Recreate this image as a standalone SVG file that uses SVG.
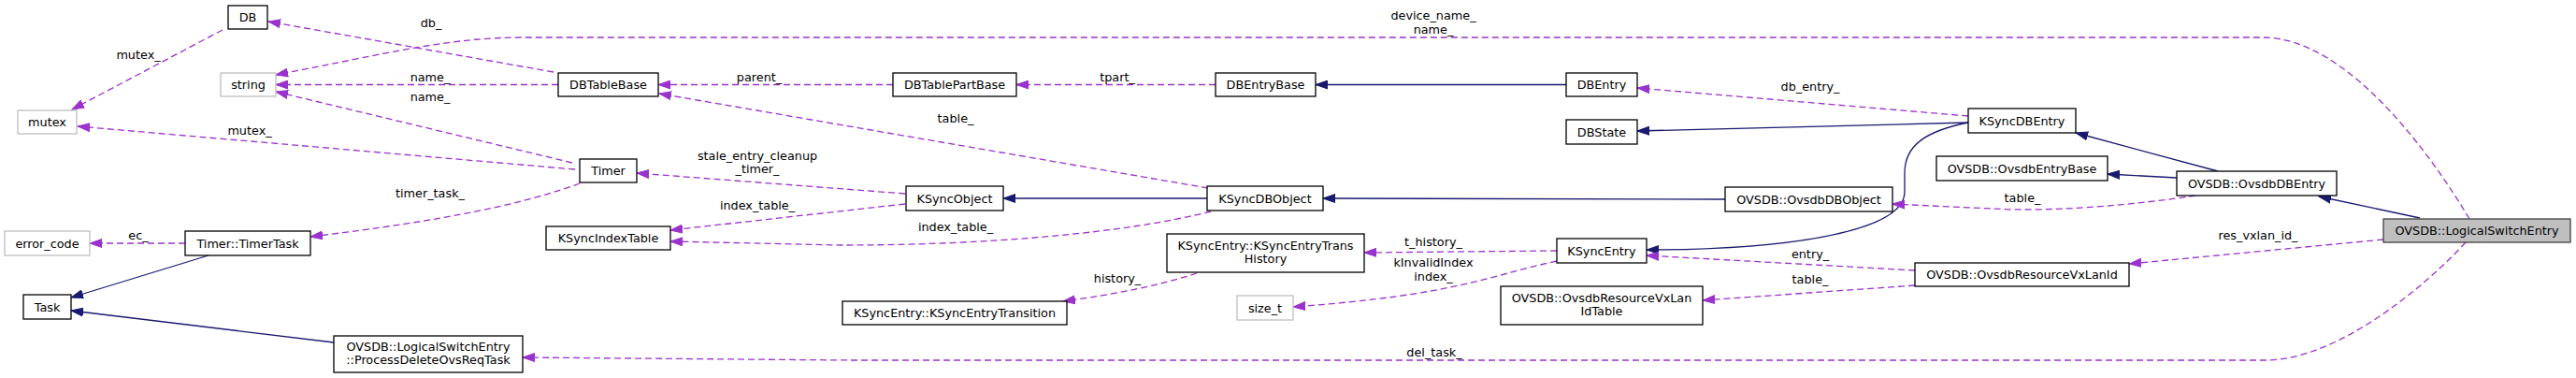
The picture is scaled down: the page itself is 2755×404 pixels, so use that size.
<svg xmlns="http://www.w3.org/2000/svg" width="2755" height="404" viewBox="0 0 2755 404">
<style>
text{font-family:"DejaVu Sans","Liberation Sans",sans-serif;font-size:12.8px;fill:#000}
.n text{text-anchor:middle}
.n rect{fill:#fff;stroke:#000;stroke-width:1.3}
.g rect{stroke:#bfbfbf}
.m rect{fill:#bfbfbf;stroke:#404040}
.u{fill:none;stroke:#9a32cd;stroke-width:1.3;stroke-dasharray:7,4;marker-end:url(#ap)}
.i{fill:none;stroke:#191970;stroke-width:1.3;marker-end:url(#ab)}
.l{text-anchor:middle}
</style>
<defs>
<marker id="ap" markerUnits="userSpaceOnUse" markerWidth="14" markerHeight="10" refX="13" refY="5" orient="auto"><path d="M0,0.5 L13,5 L0,9.5 z" fill="#9a32cd" stroke="#9a32cd" stroke-width="1"/></marker>
<marker id="ab" markerUnits="userSpaceOnUse" markerWidth="14" markerHeight="10" refX="13" refY="5" orient="auto"><path d="M0,0.5 L13,5 L0,9.5 z" fill="#191970" stroke="#191970" stroke-width="1"/></marker>
</defs>
<rect width="2755" height="404" fill="#fff"/>
<g id="edges">
<path class="u" d="M592,77 L287,23"/>
<path class="u" d="M238,32 L77,117"/>
<path class="u" d="M597,90.5 L295,90.5"/>
<path class="u" d="M612,174 L295,98"/>
<path class="u" d="M2641,234 C2600,165 2510,40 2420,40 L560,40 C480,40 420,56 295,80"/>
<path class="u" d="M615,181 L83,135"/>
<path class="u" d="M620,196 C560,218 480,235 332,253"/>
<path class="u" d="M198,260 L96,260"/>
<path class="i" d="M223,273 L76,318"/>
<path class="i" d="M357,366 L76,332"/>
<path class="u" d="M2637,259 C2595,305 2500,385 2423,385 L910,385 L559,382"/>
<path class="u" d="M955,90.5 L704,90.5"/>
<path class="u" d="M1300,90.5 L1087,90.5"/>
<path class="u" d="M1292,201 L705,100"/>
<path class="i" d="M1675,90.5 L1407,90.5"/>
<path class="u" d="M2105,124 L1751,94"/>
<path class="i" d="M2105,131 L1751,140"/>
<path class="i" d="M2105,131 C2060,140 2037,155 2037,185 L2037,205 C2037,250 1900,267 1761,267"/>
<path class="i" d="M1291,212 L1073,212"/>
<path class="i" d="M1845,213 L1415,212"/>
<path class="u" d="M968,207 L681,185"/>
<path class="u" d="M968,218 L717,246"/>
<path class="u" d="M1295,226 C1200,250 1050,262 900,262 L717,258"/>
<path class="u" d="M1280,292 C1240,305 1190,315 1137,322"/>
<path class="u" d="M1665,268 L1459,270"/>
<path class="u" d="M1665,279 C1590,295 1560,315 1383,328"/>
<path class="i" d="M2372,183 L2220,142"/>
<path class="i" d="M2328,190 L2254,186"/>
<path class="u" d="M2348,209 C2290,218 2200,227 2130,223 L2024,218"/>
<path class="u" d="M2048,289 L1761,273"/>
<path class="u" d="M2048,305 L1821,321"/>
<path class="u" d="M2549,256 L2277,282"/>
<path class="i" d="M2588,233 L2480,210"/>
<text class="l" x="461" y="29">db_</text>
<text class="l" x="148" y="63">mutex_</text>
<text class="l" x="460" y="87">name_</text>
<text class="l" x="460" y="108">name_</text>
<text class="l" x="1533" y="21">device_name_</text>
<text class="l" x="1533" y="36">name_</text>
<text class="l" x="267" y="144">mutex_</text>
<text class="l" x="460" y="211">timer_task_</text>
<text class="l" x="148" y="256">ec_</text>
<text class="l" x="812" y="87">parent_</text>
<text class="l" x="1195" y="87">tpart_</text>
<text class="l" x="1022" y="131">table_</text>
<text class="l" x="1936" y="97">db_entry_</text>
<text class="l" x="810" y="171">stale_entry_cleanup</text>
<text class="l" x="810" y="185">_timer_</text>
<text class="l" x="810" y="224">index_table_</text>
<text class="l" x="1022" y="247">index_table_</text>
<text class="l" x="1195" y="302">history_</text>
<text class="l" x="1533" y="263">t_history_</text>
<text class="l" x="1533" y="285">kInvalidIndex</text>
<text class="l" x="1533" y="300">index_</text>
<text class="l" x="2163" y="216">table_</text>
<text class="l" x="1936" y="276">entry_</text>
<text class="l" x="1936" y="303">table_</text>
<text class="l" x="2415" y="256">res_vxlan_id_</text>
<text class="l" x="1534" y="381">del_task_</text>
</g>
<g id="DB" class="n"><rect x="244" y="6" width="42" height="25"/><text x="265" y="23">DB</text></g>
<g id="string" class="n g"><rect x="236" y="78" width="59" height="25"/><text x="265.5" y="95">string</text></g>
<g id="mutex" class="n g"><rect x="19" y="118" width="63" height="25"/><text x="50.5" y="135">mutex</text></g>
<g id="error_code" class="n g"><rect x="5" y="247" width="91" height="26"/><text x="50.5" y="264.5">error_code</text></g>
<g id="TimerTask" class="n"><rect x="198" y="247" width="134" height="26"/><text x="265" y="264.5">Timer::TimerTask</text></g>
<g id="Task" class="n"><rect x="25" y="315" width="51" height="26"/><text x="50.5" y="332.5">Task</text></g>
<g id="ProcessDeleteOvsReqTask" class="n"><rect x="357" y="359" width="202" height="39"/><text x="458" y="374.5">OVSDB::LogicalSwitchEntry</text><text x="458" y="388.5">::ProcessDeleteOvsReqTask</text></g>
<g id="DBTableBase" class="n"><rect x="597" y="78" width="107" height="25"/><text x="650.5" y="95">DBTableBase</text></g>
<g id="Timer" class="n"><rect x="620" y="170" width="61" height="25"/><text x="650.5" y="187">Timer</text></g>
<g id="KSyncIndexTable" class="n"><rect x="584" y="242" width="133" height="25"/><text x="650.5" y="259">KSyncIndexTable</text></g>
<g id="DBTablePartBase" class="n"><rect x="955" y="78" width="132" height="25"/><text x="1021" y="95">DBTablePartBase</text></g>
<g id="DBEntryBase" class="n"><rect x="1300" y="78" width="107" height="25"/><text x="1353.5" y="95">DBEntryBase</text></g>
<g id="KSyncObject" class="n"><rect x="969" y="199" width="104" height="26"/><text x="1021" y="216.5">KSyncObject</text></g>
<g id="KSyncDBObject" class="n"><rect x="1291" y="199" width="124" height="26"/><text x="1353" y="216.5">KSyncDBObject</text></g>
<g id="KSyncEntryTransHistory" class="n"><rect x="1248" y="250" width="211" height="41"/><text x="1353.5" y="266.5">KSyncEntry::KSyncEntryTrans</text><text x="1353.5" y="280.5">History</text></g>
<g id="KSyncEntryTransition" class="n"><rect x="901" y="322" width="240" height="25"/><text x="1021" y="339">KSyncEntry::KSyncEntryTransition</text></g>
<g id="size_t" class="n g"><rect x="1323" y="316" width="60" height="26"/><text x="1353" y="333.5">size_t</text></g>
<g id="DBEntry" class="n"><rect x="1675" y="78" width="76" height="25"/><text x="1713" y="95">DBEntry</text></g>
<g id="DBState" class="n"><rect x="1675" y="128" width="76" height="26"/><text x="1713" y="145.5">DBState</text></g>
<g id="KSyncEntry" class="n"><rect x="1665" y="255" width="96" height="26"/><text x="1713" y="272.5">KSyncEntry</text></g>
<g id="OvsdbResourceVxLanIdTable" class="n"><rect x="1605" y="306" width="216" height="41"/><text x="1713" y="322.5">OVSDB::OvsdbResourceVxLan</text><text x="1713" y="336.5">IdTable</text></g>
<g id="KSyncDBEntry" class="n"><rect x="2105" y="116" width="115" height="26"/><text x="2162.5" y="133.5">KSyncDBEntry</text></g>
<g id="OvsdbEntryBase" class="n"><rect x="2071" y="167" width="183" height="26"/><text x="2162.5" y="184.5">OVSDB::OvsdbEntryBase</text></g>
<g id="OvsdbDBObject" class="n"><rect x="1845" y="200" width="179" height="26"/><text x="1934.5" y="217.5">OVSDB::OvsdbDBObject</text></g>
<g id="OvsdbResourceVxLanId" class="n"><rect x="2048" y="281" width="229" height="25"/><text x="2162.5" y="298">OVSDB::OvsdbResourceVxLanId</text></g>
<g id="OvsdbDBEntry" class="n"><rect x="2328" y="183" width="171" height="26"/><text x="2413.5" y="200.5">OVSDB::OvsdbDBEntry</text></g>
<g id="LogicalSwitchEntry" class="n m"><rect x="2549" y="234" width="200" height="25"/><text x="2649" y="251">OVSDB::LogicalSwitchEntry</text></g>
</svg>
